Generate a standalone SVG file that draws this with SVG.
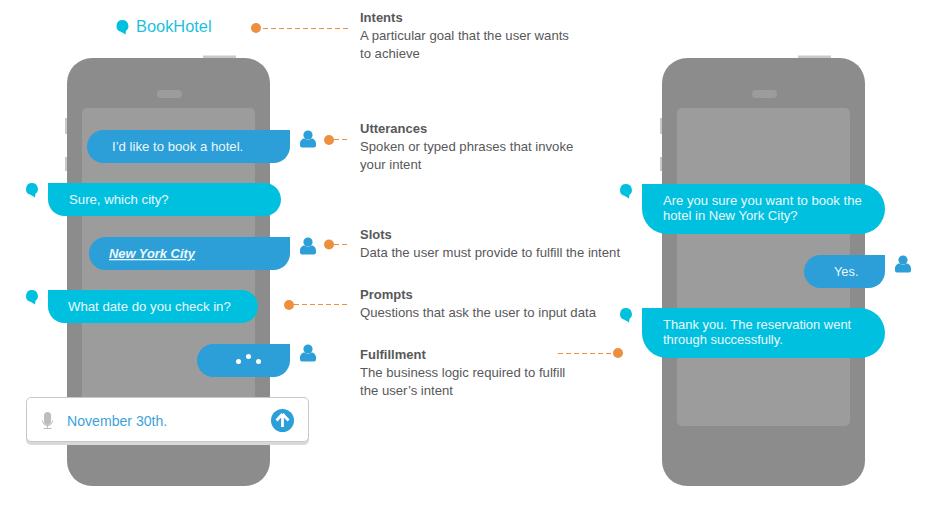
<svg xmlns="http://www.w3.org/2000/svg" width="927" height="519" viewBox="0 0 927 519">
<style>
text{font-family:"Liberation Sans",Arial,sans-serif}
.b{font-size:13.2px;fill:#eaf8fb}
.h{font-size:13px;font-weight:bold;fill:#58585a}
.d{font-size:13.15px;fill:#58585a}
.u{fill:#2c9ed8}
.a{fill:#00c0e0}
.o{fill:#ec9040}
.l{stroke:#ec9040;stroke-width:1;stroke-dasharray:5 3;fill:none}
</style>
<defs>
<g id="phone">
<rect x="203" y="55.5" width="33" height="4" fill="#c9c9c9"/>
<rect x="65" y="118" width="3" height="16" fill="#c9c9c9"/>
<rect x="65" y="157" width="3" height="14" fill="#c9c9c9"/>
<rect x="67" y="58" width="203" height="428" rx="25" fill="#8c8c8c"/>
<rect x="82" y="108" width="173" height="318" rx="5" fill="#9c9c9c"/>
<rect x="157" y="90" width="25" height="8" rx="4" fill="#9c9c9c"/>
</g>
<g id="person" class="u">
<circle cx="8" cy="5" r="4.6"/>
<path d="M0 15.500V13.500C0 10.500 2.500 8.500 4.500 8.500C6 10 10 10 11.500 8.500C13.500 8.500 16 10.500 16 13.500V15.500Q16 17.500 14 17.500H2Q0 17.500 0 15.500Z"/>
</g>
<g id="agent" class="a">
<path d="M6 0A6 6 0 0 1 9.500 10.800L9 14.500L4.500 11.800A6 6 0 0 1 6 0Z"/>
</g>
</defs>
<g id="phone-left"><use href="#phone"/></g>
<g id="phone-right"><use href="#phone" x="595"/></g>
<g id="connectors">
<line class="l" x1="263" y1="28.500" x2="350" y2="28.500"/>
<line class="l" x1="334" y1="139.500" x2="347" y2="139.500"/>
<line class="l" x1="334" y1="244.500" x2="350" y2="244.500"/>
<line class="l" x1="294" y1="304.500" x2="348" y2="304.500"/>
<line class="l" x1="558" y1="353.500" x2="612" y2="353.500"/>
</g>
<g id="dots" class="o">
<circle cx="256" cy="28" r="5"/>
<circle cx="329" cy="140" r="5"/>
<circle cx="329" cy="244.500" r="5"/>
<circle cx="289" cy="305" r="5"/>
<circle cx="618" cy="353" r="5"/>
</g>
<g id="booking-title">
<use href="#agent" x="116.500" y="20"/>
<text x="136" y="32" font-size="16.400" fill="#1fc0de">BookHotel</text>
</g>
<g id="msg1">
<path class="u" d="M103.500 130H290V146.500A16.500 16.500 0 0 1 273.500 163H103.500A16.500 16.500 0 0 1 103.500 130Z"/>
<text class="b" x="112" y="151">I’d like to book a hotel.</text>
<use href="#person" x="300" y="130"/>
</g>
<g id="msg2">
<path class="a" d="M48 183H264.500A16.500 16.500 0 0 1 264.500 216H64.500A16.500 16.500 0 0 1 48 199.500Z"/>
<text class="b" x="69" y="204">Sure, which city?</text>
<use href="#agent" x="26" y="183"/>
</g>
<g id="msg3">
<path class="u" d="M105.500 237H290V253.500A16.500 16.500 0 0 1 273.500 270H105.500A16.500 16.500 0 0 1 105.500 237Z"/>
<text x="109" y="258" font-size="12.900" font-weight="bold" font-style="italic" fill="#eaf8fb" text-decoration="underline">New York City</text>
<use href="#person" x="300" y="237"/>
</g>
<g id="msg4">
<path class="a" d="M48 290H241.500A16.500 16.500 0 0 1 241.500 323H64.500A16.500 16.500 0 0 1 48 306.500Z"/>
<text class="b" x="68" y="311">What date do you check in?</text>
<use href="#agent" x="26" y="290"/>
</g>
<g id="msg5">
<path class="u" d="M213.500 344H290V360.500A16.500 16.500 0 0 1 273.500 377H213.500A16.500 16.500 0 0 1 213.500 344Z"/>
<circle cx="238.500" cy="361.500" r="2.500" fill="#fff"/>
<circle cx="248.500" cy="356.500" r="2.500" fill="#fff"/>
<circle cx="258.500" cy="361.500" r="2.500" fill="#fff"/>
<use href="#person" x="300" y="344"/>
</g>
<g id="input">
<rect x="26" y="401" width="283" height="44" rx="5" fill="#d9d9d9"/>
<rect x="26.500" y="397.500" width="282" height="44" rx="4.500" fill="#fff" stroke="#c8c8c8"/>
<rect x="44" y="412" width="7" height="13" rx="3.500" fill="#bdbdbd"/>
<path d="M42.500 420.500A5 5 0 0 0 52.500 420.500M47.500 425.500V428.500M43.500 428.500H51.500" fill="none" stroke="#bdbdbd"/>
<text x="67" y="426" font-size="14.100" fill="#3ca3da">November 30th.</text>
<circle cx="282.500" cy="420.500" r="11.500" fill="#2c9ed8"/>
<path d="M282.500 414L276.500 420.500M282.500 414L288.500 420.500M282.500 415V427" fill="none" stroke="#fff" stroke-width="2.800"/>
</g>
<g id="label-intents">
<text class="h" x="360" y="22">Intents</text>
<text class="d" x="360" y="40">A particular goal that the user wants</text>
<text class="d" x="360" y="58">to achieve</text>
</g>
<g id="label-utterances">
<text class="h" x="360" y="133">Utterances</text>
<text class="d" x="360" y="151">Spoken or typed phrases that invoke</text>
<text class="d" x="360" y="169">your intent</text>
</g>
<g id="label-slots">
<text class="h" x="360" y="239">Slots</text>
<text class="d" x="360" y="257">Data the user must provide to fulfill the intent</text>
</g>
<g id="label-prompts">
<text class="h" x="360" y="299">Prompts</text>
<text class="d" x="360" y="317">Questions that ask the user to input data</text>
</g>
<g id="label-fulfillment">
<text class="h" x="360" y="359">Fulfillment</text>
<text class="d" x="360" y="377">The business logic required to fulfill</text>
<text class="d" x="360" y="395">the user’s intent</text>
</g>
<g id="msg6">
<path class="a" d="M642 184H860A25 25 0 0 1 860 234H667A25 25 0 0 1 642 209Z"/>
<text class="b" x="663" y="205" style="font-size:13.100px">Are you sure you want to book the</text>
<text class="b" x="663" y="220" style="font-size:13.100px">hotel in New York City?</text>
<use href="#agent" x="620" y="184"/>
</g>
<g id="msg7">
<path class="u" d="M820.500 255H885V271.500A16.500 16.500 0 0 1 868.500 288H820.500A16.500 16.500 0 0 1 820.500 255Z"/>
<text class="b" x="834" y="276" style="font-size:12.800px">Yes.</text>
<use href="#person" x="895" y="255"/>
</g>
<g id="msg8">
<path class="a" d="M642 308H860A25 25 0 0 1 860 358H667A25 25 0 0 1 642 333Z"/>
<text class="b" x="663" y="329" style="font-size:12.950px">Thank you. The reservation went</text>
<text class="b" x="663" y="344" style="font-size:12.950px">through successfully.</text>
<use href="#agent" x="620" y="308"/>
</g>
</svg>
